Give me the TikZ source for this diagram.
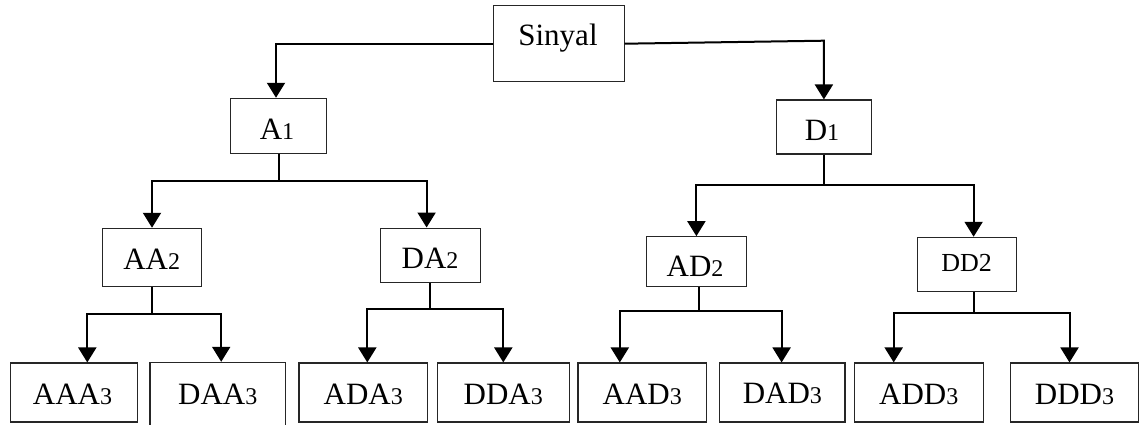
\documentclass[tikz,border=0pt]{standalone}
\usepackage{fontspec}
\setmainfont{Liberation Serif}
\usetikzlibrary{arrows.meta}
\newcommand{\dg}[1]{{\fontsize{24}{24}\selectfont #1}}
\begin{document}
\begin{tikzpicture}[x=1pt,y=-1pt,
  box/.style={draw=black!85, line width=1.1pt, inner sep=0pt, fill=white},
  lbl/.style={inner sep=0pt, anchor=base, font=\fontsize{31}{31}\selectfont},
  conn/.style={line width=2pt, black},
  arr/.style={conn, -{Triangle[width=18pt,length=15pt]}}]
\useasboundingbox (0,0) rectangle (1140,424);
% level 0
\node[box, minimum width=130.7pt, minimum height=76pt] (sin) at (558.7,43.7) {};
\node[lbl] (sint) at (558,45) {Sinyal};
% level 1
\node[box, minimum width=95.3pt, minimum height=55pt] (a1) at (278.4,125.8) {};
\node[lbl] (a1t) at (277,139.3) {A\dg{1}};
\node[box, minimum width=95.7pt, minimum height=54pt] (d1) at (823.9,127) {};
\node[lbl] (d1t) at (822,140.7) {D\dg{1}};
% level 2
\node[box, minimum width=99.4pt, minimum height=58.4pt] (aa2) at (152,257.5) {};
\node[lbl] (aa2t) at (151.7,269.3) {AA\dg{2}};
\node[box, minimum width=99.3pt, minimum height=54.7pt] (da2) at (430.4,255.4) {};
\node[lbl] (da2t) at (430,268.3) {DA\dg{2}};
\node[box, minimum width=100pt, minimum height=50pt] (ad2) at (696.4,261.7) {};
\node[lbl] (ad2t) at (695,276.7) {AD\dg{2}};
\node[box, minimum width=99.4pt, minimum height=54.4pt] (dd2) at (967,264.5) {};
\node[lbl, font=\fontsize{26}{26}\selectfont] (dd2t) at (966.7,271.7) {DD2};
% level 3
\node[box, minimum width=127.3pt, minimum height=59pt] (aaa3) at (73.7,392.5) {};
\node[lbl] (aaa3t) at (72.5,404) {AAA\dg{3}};
\node[box, minimum width=135.6pt, minimum height=63.7pt] (daa3) at (217.8,394.2) {};
\node[lbl] (daa3t) at (217.8,404) {DAA\dg{3}};
\node[box, minimum width=128.6pt, minimum height=59pt] (ada3) at (363.3,392.5) {};
\node[lbl] (ada3t) at (363.3,404) {ADA\dg{3}};
\node[box, minimum width=131.5pt, minimum height=59pt] (dda3) at (503.3,392.5) {};
\node[lbl] (dda3t) at (503.3,404) {DDA\dg{3}};
\node[box, minimum width=128.4pt, minimum height=59pt] (aad3) at (642.2,392.5) {};
\node[lbl] (aad3t) at (642.2,404) {AAD\dg{3}};
\node[box, minimum width=125.2pt, minimum height=59pt] (dad3) at (782.4,392.5) {};
\node[lbl] (dad3t) at (782.4,403) {DAD\dg{3}};
\node[box, minimum width=129.3pt, minimum height=59pt] (add3) at (918.7,392.5) {};
\node[lbl] (add3t) at (918.7,404) {ADD\dg{3}};
\node[box, minimum width=127.6pt, minimum height=59pt] (ddd3) at (1074.5,392.5) {};
\node[lbl] (ddd3t) at (1074.5,404) {DDD\dg{3}};
% junctions
\coordinate (j1) at (279,180.7);
\coordinate (j2) at (824,185);
\coordinate (jaa) at (151.7,314);
\coordinate (jda) at (430,309);
\coordinate (jad) at (699,310.7);
\coordinate (jdd) at (974,313);
% connectors level 0 -> 1
\draw[arr] (sin.west) -| ([xshift=-2.4pt]a1.north);
\draw[arr] (sin.east) -- ([yshift=3pt]sin.east -| d1.north) -- (d1.north);
% level 1 -> 2
\draw[conn] (a1.south -| j1) -- (j1);
\draw[arr] (j1) -| (aa2.north);
\draw[arr] (j1) -| ([xshift=-3.8pt]da2.north);
\draw[conn] (d1.south -| j2) -- (j2);
\draw[arr] (j2) -| (ad2.north);
\draw[arr] (j2) -| ([xshift=6.6pt]dd2.north);
% level 2 -> 3
\draw[conn] (aa2.south -| jaa) -- (jaa);
\draw[arr] (jaa) -| ([xshift=13.6pt]aaa3.north);
\draw[arr] (jaa) -| ([xshift=3.4pt]daa3.north);
\draw[conn] (da2.south -| jda) -- (jda);
\draw[arr] (jda) -| ([xshift=4pt]ada3.north);
\draw[arr] (jda) -| (dda3.north);
\draw[conn] (ad2.south -| jad) -- (jad);
\draw[arr] (jad) -| ([xshift=-22.4pt]aad3.north);
\draw[arr] (jad) -| ([xshift=-0.8pt]dad3.north);
\draw[conn] (dd2.south -| jdd) -- (jdd);
\draw[arr] (jdd) -| ([xshift=-25pt]add3.north);
\draw[arr] (jdd) -| ([xshift=-5pt]ddd3.north);
\end{tikzpicture}
\end{document}
